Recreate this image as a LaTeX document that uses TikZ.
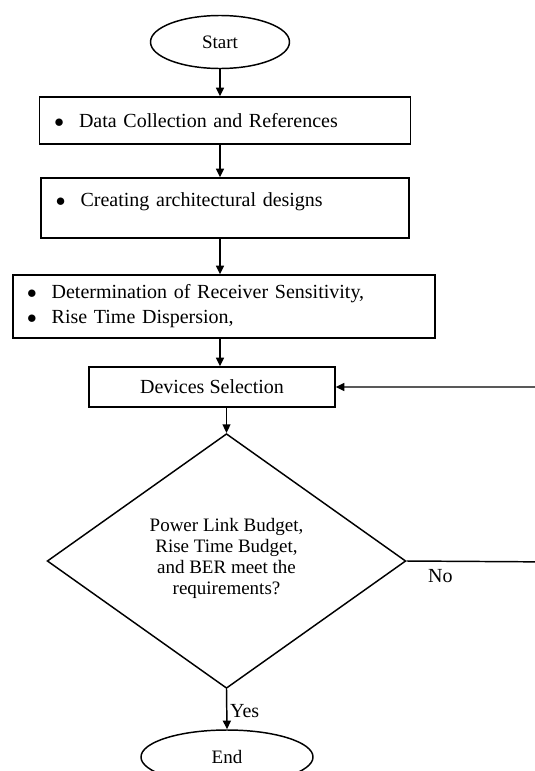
\documentclass[tikz,border=0pt]{standalone}
\usepackage{fontspec}
\setmainfont{Liberation Serif}
\usetikzlibrary{shapes.geometric,arrows.meta}
\newcommand{\bitem}{\makebox[18.5pt][l]{$\bullet$}}
\begin{document}
\begin{tikzpicture}[x=0.75pt,y=0.75pt,yscale=-1,xscale=1,
  font=\fontsize{15}{18.75}\selectfont,
  term/.style={draw,ellipse,inner sep=0pt,line width=1.1pt,font=\fontsize{14.25}{18.75}\selectfont},
  procbox/.style={draw,rectangle,inner ysep=0pt,inner xsep=11.2pt,align=left,line width=1.1pt},
  decision/.style={draw,diamond,inner sep=0pt,align=center,line width=1.1pt,
    minimum width=269pt,minimum height=191pt,font=\fontsize{14.25}{15.75}\selectfont},
  arr/.style={-{Triangle[length=6.5pt,width=6pt]},line width=1.1pt}]
\useasboundingbox (0,0) rectangle (535,771);
\clip (0,0) rectangle (535,771);
\node[term,minimum width=104.25pt,minimum height=39.75pt] (start) at (220,42) {Start};
\node[procbox,text width=256pt,minimum height=35.25pt] (collect) at (225,120.5) {\bitem Data Collection and References};
\node[procbox,text width=253.6pt,minimum height=45pt] (design) at (225,208) {\bitem Creating architectural designs\\[-6pt]~};
\node[procbox,inner xsep=10.5pt,text width=295.5pt,minimum height=47.25pt] (determ) at (224,306.5) {\bitem Determination of Receiver Sensitivity,\\\bitem Rise Time Dispersion,};
\node[procbox,align=center,inner xsep=0pt,minimum width=184.5pt,minimum height=30pt] (select) at (212,387) {Devices Selection};
\node[decision] (budget) at (226.5,561) {Power Link Budget,\\Rise Time Budget,\\and BER meet the\\requirements?\\[-9pt]~};
\node[term,minimum width=129pt,minimum height=40.5pt] (finish) at (227,757) {End};
\coordinate (loopR) at (560,562);
\draw[arr] (start.south) -- (start.south |- collect.north);
\draw[arr] (collect.south -| start) -- (design.north -| start);
\draw[arr] (design.south -| start) -- (determ.north -| start);
\draw[arr] (determ.south -| start) -- (select.north -| start);
\draw[arr] (select.south -| budget) -- (budget.north);
\draw[arr] (budget.south) -- node[right,pos=0.55,inner sep=2pt] {Yes} (finish.north);
\draw[arr] (budget.east) -- node[pos=0.22,below,yshift=-2pt] {No} (loopR) |- (select.east);
\end{tikzpicture}
\end{document}
